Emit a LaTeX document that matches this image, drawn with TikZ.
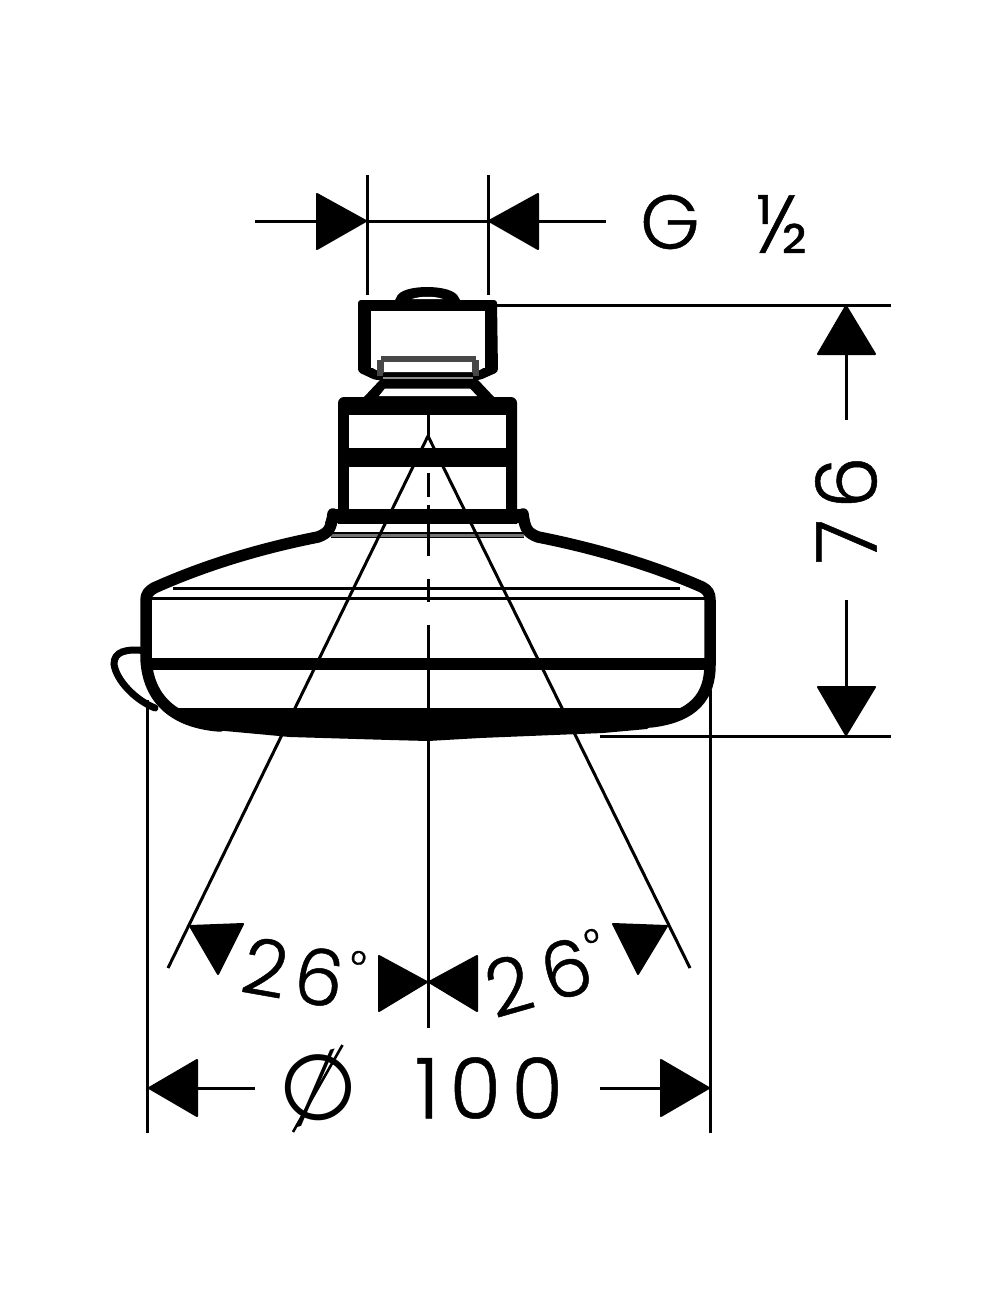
\documentclass[tikz,border=0pt]{standalone}
\usepackage{fontspec}
\newfontfamily\dimfont[LetterSpace=12,FakeBold=0.6]{Poppins Light}
\newfontfamily\dimplain[FakeBold=0.6]{Poppins Light}
\newfontfamily\symfont{DejaVu Sans}
\newcommand{\smalldeg}[1]{\raisebox{#1}{\fontsize{40}{40}\selectfont °}}
\tikzset{
  thin line/.style={line width=3pt,draw=black},
  thick line/.style={line width=11.5pt,draw=black,line join=round,line cap=round},
  tri/.style={fill=black,draw=black,line width=2pt,line join=round},
  dimtext/.style={inner sep=0pt,anchor=center,font=\fontsize{84}{84}\dimfont},
  angtext/.style={inner sep=0pt,anchor=center,font=\fontsize{78}{78}\dimplain},
}
\begin{document}
\begin{tikzpicture}[x=1pt,y=-1pt]
\useasboundingbox (0,0) rectangle (1000,1309);
\fill[white] (0,0) rectangle (1000,1309);
% --- fitting cap ---
\draw[line width=6pt,draw=black,fill=black] (399,299) .. controls (402,287) and (452,287) .. (456,299) -- cycle;
\fill[white] (412,299) .. controls (420,296) and (435,296) .. (443,299) -- cycle;
\fill[black,rounded corners=3pt] (358,300) -- (497,300) -- (498,372) -- (480,380) -- (375,380) -- (358,372) -- cycle;
\fill[white] (371,311) rectangle (485,368);
\fill[white] (371,367) -- (485,367) -- (476,372) -- (380,372) -- cycle;
% collar
\fill[black!72] (381,356) rectangle (476,362);
\fill[black!72] (377,360) rectangle (384,376);
\fill[black!72] (472,360) rectangle (479,376);
\fill[white] (384,362.5) rectangle (472,372);
\fill[black] (383,373) rectangle (473,376.5);
\fill[black!45] (383,376.5) rectangle (473,378.5);
\fill[black] (383,378.5) rectangle (473,387.5);
% neck
\fill[black] (364,397) -- (380,380) -- (478,380) -- (494,397) -- cycle;
\fill[white] (379,396) -- (385,388.5) -- (470,388.5) -- (477,396) -- cycle;
% --- upper housing ---
\fill[black,rounded corners=6pt] (338,397) -- (517,397) -- (517,530) -- (338,530) -- cycle;
\fill[white] (349,415) rectangle (506,448);
\fill[white] (349,467) rectangle (506,509);
% --- flange and shell ---
\fill[black] (330,509) -- (525,509) -- (530,523) -- (325,523) -- cycle;
\fill[white] (335,524) -- (520,524) -- (523,532) -- (332,532) -- cycle;
\fill[black!55] (331,532) rectangle (524,538);
\draw[line width=1.6pt,black] (331,533) -- (524,533);
\draw[line width=1.6pt,black] (331,537.5) -- (524,537.5);
\draw[thick line] (333,514) .. controls (331,530) and (328,533) .. (318,537)
  .. controls (262,548) and (205,565) .. (154,588)
  .. controls (149,591) and (146,594) .. (146,600) -- (146,655)
  .. controls (146,690) and (165,722) .. (220,726);
\draw[thick line] (523,514) .. controls (525,530) and (528,533) .. (538,537)
  .. controls (594,548) and (652,565) .. (702,587)
  .. controls (708,590) and (710,594) .. (710,600) -- (710,665)
  .. controls (710,695) and (695,717) .. (650,722);
% loop handle
\draw[line width=7pt,black,line cap=round] (147,651) .. controls (125,648) and (114,652) .. (114,664)
  .. controls (116,680) and (135,700) .. (155,708);
% body bands
\fill[black] (173,587) rectangle (680,590);
\fill[black] (150,596.5) rectangle (706,599.5);
\fill[black] (148,658) rectangle (708,669.5);
% bottom mass
\fill[black] (173,708) -- (682,708) -- (660,720) -- (647,729) -- (603,733) -- (480,738) -- (428,741) -- (390,740)
  -- (290,737) -- (225,731) -- (207,728) -- (190,718) -- cycle;
% --- centre and angle lines ---
\coordinate (apex) at (428,436);
\coordinate (lend) at (168,968);
\coordinate (rend) at (690,968);
\draw[thin line] (apex) -- (lend);
\draw[thin line] (apex) -- (rend);
\draw[thin line] (428,412) -- (428,440);
\draw[thin line] (428,473) -- (428,497);
\draw[thin line] (428,505) -- (428,556);
\draw[thin line] (428,579) -- (428,602);
\draw[thin line] (428,625) -- (428,1028);
% --- width dimension ---
\draw[thin line] (147.5,700) -- (147.5,1133);
\draw[thin line] (710,690) -- (710,1133);
\draw[tri] (149,1088) -- (197,1060) -- (197,1116) -- cycle;
\draw[tri] (709,1088) -- (661,1060) -- (661,1116) -- cycle;
\draw[thin line] (197,1088) -- (255,1088);
\draw[thin line] (600,1088) -- (661,1088);
\node[inner sep=0pt,rotate=15.6] (dia) at (318,1088) {\fontsize{92}{92}\symfont ∅};
\coordinate (slashlow) at (293,1132);
\coordinate (slashhigh) at (342.5,1045);
\draw[line width=2.6pt,black] (slashlow) -- (slashhigh);
\node[dimtext] (hundred) at (489,1088) {100};
% --- angle dimension ---
\draw[tri] (190,926) -- (243,924) -- (218,974) -- cycle;
\draw[tri] (667,926) -- (613,924) -- (638,974) -- cycle;
\draw[tri] (427,982) -- (379,956) -- (379,1011) -- cycle;
\draw[tri] (429,982) -- (477,956) -- (477,1011) -- cycle;
\node[angtext,rotate=-10] (angl) at (303,972) {2\kern8pt 6\kern3pt\smalldeg{33pt}};
\node[angtext,rotate=16] (angr) at (546,973) {2\kern13pt 6\kern1pt\smalldeg{32pt}};
% --- thread dimension ---
\draw[thin line] (367,175) -- (367,295);
\draw[thin line] (488,175) -- (488,295);
\draw[thin line] (367,221) -- (488,221);
\draw[tri] (366,221) -- (317,194) -- (317,249) -- cycle;
\draw[tri] (489,221) -- (538,194) -- (538,249) -- cycle;
\draw[thin line] (255,221) -- (317,221);
\draw[thin line] (538,221) -- (606,221);
\node[inner sep=0pt,font=\fontsize{76}{76}\dimplain] (gee) at (670,222) {G};
\node[inner sep=0pt,font=\fontsize{82}{82}\dimplain] (half) at (782,224) {½};
% --- height dimension ---
\draw[thin line] (490,305) -- (891,305);
\draw[thin line] (600,736) -- (891,736);
\draw[tri] (846,306) -- (818,354) -- (875,354) -- cycle;
\draw[tri] (846,735) -- (818,687) -- (875,687) -- cycle;
\draw[thin line] (846,354) -- (846,420);
\draw[thin line] (846,600) -- (846,687);
\node[dimtext,rotate=90] (sevsix) at (846,510) {76};
\end{tikzpicture}
\end{document}
